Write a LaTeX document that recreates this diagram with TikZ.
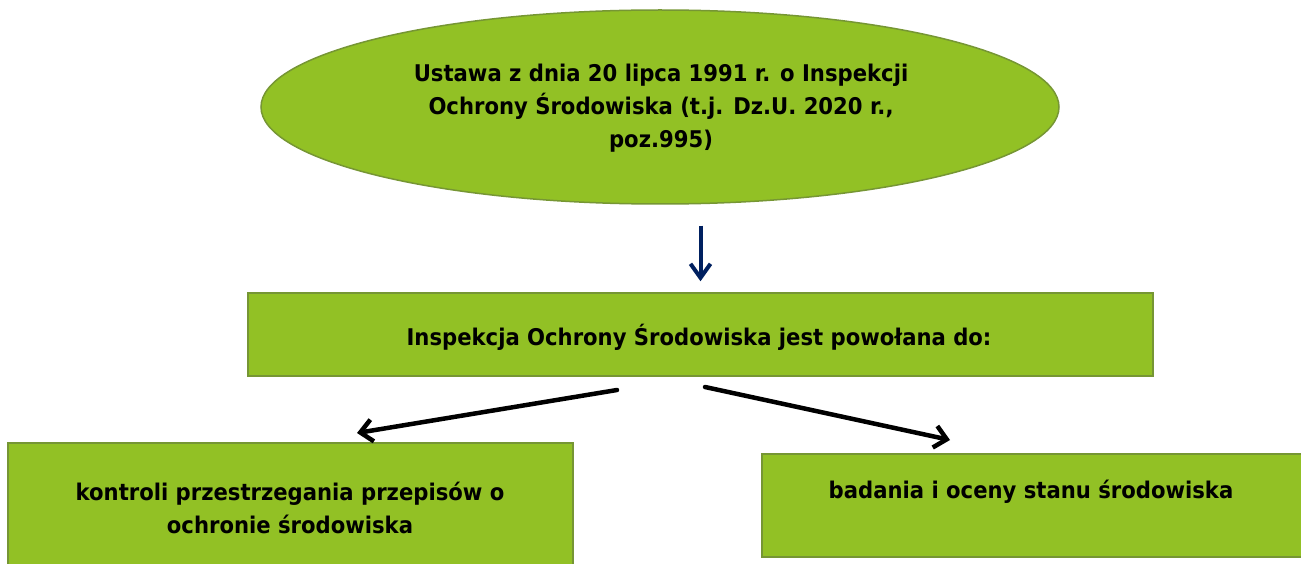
\documentclass[tikz,border=0pt]{standalone}
\usepackage{fontspec}
\setmainfont[FakeStretch=0.92]{DejaVu Sans}
\usetikzlibrary{arrows.meta,shapes.geometric,calc}
\definecolor{leaf}{RGB}{146,193,37}
\definecolor{leafedge}{RGB}{118,150,52}
\definecolor{navy}{RGB}{0,32,96}

\begin{document}
\begin{tikzpicture}[x=1pt,y=-1pt]
            \tikzset{lawshape/.style = {shape=ellipse, draw=leafedge, line width=1.5pt, fill=leaf, inner sep=0pt, minimum width=798pt, minimum height=194pt}}
            \tikzset{greenbox/.style = {shape=rectangle, draw=leafedge, line width=1.5pt, fill=leaf, inner sep=0pt}}
            \tikzset{label/.style = {font=\fontsize{23}{33}\selectfont\bfseries, align=center, inner sep=0pt}}
            \tikzset{bluearrow/.style = {draw=navy, line width=4pt, -{Straight Barb[length=14pt, width=20pt, line width=4pt]}}}
            \tikzset{blackarrow/.style = {draw=black, line width=4.5pt, line cap=round, -{Straight Barb[length=12pt, width=22pt, line width=4.5pt]}}}
            \useasboundingbox (0,0) rectangle (1301,564);
            \clip (0,0) rectangle (1301,564);
            % vertices
            \node[lawshape] (law) at (660,107) {};
            \node[label] (lawtext) at (661,108) {Ustawa z dnia 20 lipca 1991 r. o Inspekcji\\ Ochrony Środowiska (t.j. Dz.U. 2020 r.,\\ poz.995)};
            \node[greenbox, minimum width=905pt, minimum height=83pt] (mid) at (700.5,334.5) {};
            \node[label] (midtext) at (699,337) {Inspekcja Ochrony Środowiska jest powołana do:};
            \node[greenbox, minimum width=565pt, minimum height=140pt] (left) at (290.5,513) {};
            \node[label] (lefttext) at (290,508) {kontroli przestrzegania przepisów o\\ ochronie środowiska};
            \node[greenbox, minimum width=543pt, minimum height=103pt] (right) at (1033.5,505.5) {};
            \node[label] (righttext) at (1031,492) {badania i oceny stanu środowiska};
            \coordinate (lstart) at (617,390);
            \coordinate (lend) at (357,433);
            \coordinate (rstart) at (705,387);
            \coordinate (rend) at (950,440);
            % edges
            \draw[bluearrow, shorten <=21pt, shorten >=11pt] (law.south -| mid.north) -- (mid.north);
            \draw[blackarrow] (lstart) -- (lend);
            \draw[blackarrow] (rstart) -- (rend);
        \end{tikzpicture}
\end{document}
